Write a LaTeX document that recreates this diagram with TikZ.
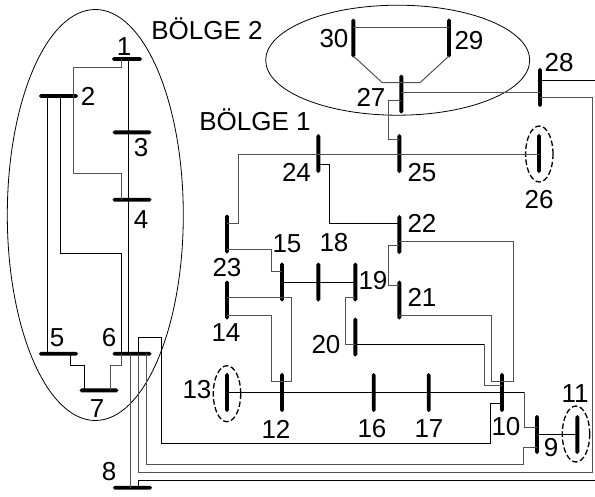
\documentclass[tikz,border=0pt]{standalone}
\usepackage{fontspec}
\setmainfont{Liberation Sans}
\usetikzlibrary{shapes.geometric}
\tikzset{
  hbus/.style={fill=black,rounded corners=1.9pt,inner sep=0pt,minimum width=39pt,minimum height=3.9pt},
  vbus/.style={fill=black,rounded corners=1.9pt,inner sep=0pt,minimum width=3.9pt,minimum height=39pt},
  lab/.style={inner sep=0pt,font=\fontsize{26}{26}\selectfont},
  area/.style={draw=black,ellipse,inner sep=0pt,line width=0.8pt},
  darea/.style={area,line width=1.3pt,dash pattern=on 5.5pt off 2.6pt},
  k/.style={draw=black,line width=0.9pt},
  g/.style={draw=black!68,line width=1pt}
}
\begin{document}
\begin{tikzpicture}[x=1pt,y=-1pt,line join=miter]
\useasboundingbox (0,0) rectangle (595,496);
% regions
\node[area,minimum width=176pt,minimum height=411pt] (r1) at (95.3,215) {};
\node[area,minimum width=264pt,minimum height=110pt] (r2) at (397.7,60.2) {};
\node[darea,minimum width=27.5pt,minimum height=56pt] (d26) at (539.3,154) {};
\node[darea,minimum width=27.5pt,minimum height=56pt] (d13) at (227,393.7) {};
\node[darea,minimum width=27.5pt,minimum height=56pt] (d11) at (576,434) {};
% horizontal buses
\node[hbus,minimum width=30pt] (b1) at (127,59) {};
\node[hbus] (b2) at (58.5,96) {};
\node[hbus] (b3) at (132,132.3) {};
\node[hbus] (b4) at (132,199.7) {};
\node[hbus] (b5) at (58.5,353.7) {};
\node[hbus] (b6) at (132,353.7) {};
\node[hbus] (b7) at (99,390.3) {};
\node[hbus] (b8) at (132.5,487.7) {};
% vertical buses
\node[vbus] (b30) at (353.3,38) {};
\node[vbus] (b29) at (449,38) {};
\node[vbus] (b27) at (401.3,94) {};
\node[vbus] (b28) at (540,87.5) {};
\node[vbus] (b24) at (318.3,153.5) {};
\node[vbus] (b25) at (399.3,153.5) {};
\node[vbus] (b26) at (539,153.5) {};
\node[vbus] (b22) at (399.3,234.5) {};
\node[vbus] (b23) at (227,234) {};
\node[vbus] (b15) at (282,282) {};
\node[vbus] (b14) at (227,300) {};
\node[vbus] (b12) at (282,392.5) {};
\node[vbus] (b13) at (227,392.5) {};
\node[vbus] (b16) at (373.7,392.5) {};
\node[vbus] (b17) at (428.7,392.5) {};
\node[vbus] (b10) at (502,392.5) {};
\node[vbus] (b9) at (537,434.5) {};
\node[vbus] (b11) at (577.3,434.5) {};
\node[vbus] (b18) at (318.3,282) {};
\node[vbus] (b19) at (355.3,282) {};
\node[vbus] (b21) at (399.3,300) {};
\node[vbus] (b20) at (355.3,337) {};
% free ends at the picture's right edge
\coordinate (e1) at (595,80.5);
\coordinate (e2) at (595,480.3);
% connectors, area 1
\draw[g] (b1 -| 121,0) -- (121,67.5) -- (73,67.5) -- (b2 -| 73,0);
\draw[g] (b2 -| 73,0) -- (73,173) -- (121,173) -- (b4 -| 121,0);
\draw[k] (b1 -| 128.5,0) -- (b6 -| 128.5,0);
\draw[k] (b2 -| 47.5,0) -- (b5 -| 47.5,0);
\draw[k] (b2 -| 60.7,0) -- (60.7,253.3) -- (121,253.3) -- (b6 -| 121,0);
\draw[g] (b6 -| 121,0) -- (121,365.3) -- (110,365.3) -- (b7 -| 110,0);
\draw[k] (b5 -| 70,0) -- (70,365.3) -- (84.7,365.3) -- (b7 -| 84.7,0);
\draw[g] (b6 -| 130,0) -- (b8 -| 130,0);
% connectors leaving bus 6 and bus 8
\draw[k] (b8 -| 138,0) -- (138,480.3) -- (e2);
\draw[k] (b10 |- 0,403) -- (490,403) -- (490,443) -- (161.5,443) -- (161.5,337) -- (138,337) -- (b6 -| 138,0);
\draw[g] (b6 -| 138,0) -- (138,472) -- (592,472) -- (592,97.7) -- (b28 |- 0,97.7);
\draw[g] (b6 -| 146.7,0) -- (146.7,464) -- (523,464) -- (523,447) -- (b9 |- 0,447);
\draw[k] (b28 |- e1) -- (e1);
% connectors, area 3 south
\draw[k] (b13) -- (b13 |- 0,392) -- (524,392);
\draw[g] (524,392) -- (524,427) -- (b9 |- 0,427);
\draw[k] (b9 |- 0,434.7) -- (b11 |- 0,434.7);
\draw[g] (b14 |- 0,297) -- (291,297) -- (291,381) -- (b12 |- 0,381);
\draw[g] (b14 |- 0,315) -- (271,315) -- (271,381) -- (b12 |- 0,381);
\draw[g] (b23 |- 0,249) -- (271,249) -- (271,271) -- (b15 |- 0,271);
\draw[k] (b15 |- 0,282) -- (b19 |- 0,282);
\draw[g] (b19 |- 0,297) -- (345.7,297) -- (345.7,344) -- (b20 |- 0,344);
\draw[k] (b20 |- 0,344) -- (484,344);
\draw[g] (484,344) -- (484,385) -- (b10 |- 0,385);
\draw[g] (b21 |- 0,315) -- (491,315) -- (491,381) -- (b10 |- 0,381);
\draw[g] (b10 |- 0,381) -- (513,381) -- (513,241.7) -- (b22 |- 0,241.7);
\draw[g] (b22 |- 0,245.7) -- (388.3,245.7) -- (388.3,285) -- (b21 |- 0,285);
\draw[k] (b24 |- 0,164) -- (329,164) -- (329,223) -- (b22 |- 0,223);
\draw[g] (b23 |- 0,223) -- (238,223) -- (238,154) -- (b26 |- 0,154);
\draw[g] (b25 |- 0,139) -- (388.3,139) -- (388.3,100) -- (b27 |- 0,100);
\draw[g] (b27 |- 0,92) -- (b28 |- 0,92);
\draw[g] (b30 |- 0,56) -- (382.3,82.7) -- (420,82.7) -- (b29 |- 0,56);
\draw[g] (b30 |- 0,27.7) -- (b29 |- 0,27.7);
% labels
\node[lab] (t1) at (124,47) {1};
\node[lab] (t2) at (88,96) {2};
\node[lab] (t3) at (141,148) {3};
\node[lab] (t4) at (141,220) {4};
\node[lab] (t5) at (57,338) {5};
\node[lab] (t6) at (109,338) {6};
\node[lab] (t7) at (97,409) {7};
\node[lab] (t8) at (109,472) {8};
\node[lab] (t9) at (551,448) {9};
\node[lab] (t10) at (506,427) {10};
\node[lab] (t11) at (575,394) {11};
\node[lab] (t12) at (276,429) {12};
\node[lab] (t13) at (197,390) {13};
\node[lab] (t14) at (226,333) {14};
\node[lab] (t15) at (287,244) {15};
\node[lab] (t16) at (372,429) {16};
\node[lab] (t17) at (429,429) {17};
\node[lab] (t18) at (334,243) {18};
\node[lab] (t19) at (373,281) {19};
\node[lab] (t20) at (326,345) {20};
\node[lab] (t21) at (422,297) {21};
\node[lab] (t22) at (422,223) {22};
\node[lab] (t23) at (227,268) {23};
\node[lab] (t24) at (296.5,172) {24};
\node[lab] (t25) at (422,173) {25};
\node[lab] (t26) at (539,200) {26};
\node[lab] (t27) at (371,97) {27};
\node[lab] (t28) at (559,63) {28};
\node[lab] (t29) at (469,41) {29};
\node[lab] (t30) at (334,39) {30};
\node[lab] (tz2) at (207,29) {BÖLGE 2};
\node[lab] (tz1) at (255,120) {BÖLGE 1};
\end{tikzpicture}
\end{document}
